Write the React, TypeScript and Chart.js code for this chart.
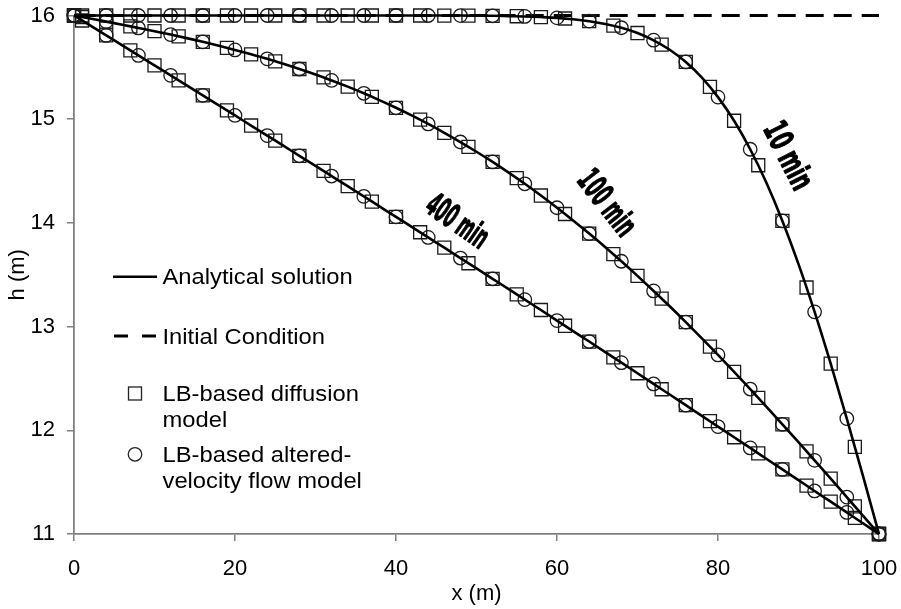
import React, { useEffect, useRef } from 'react';
import { Chart, registerables } from 'chart.js';

Chart.register(...registerables);

// ---------- data (x in m, h in m) ----------
const LINE_X = [0, 2, 4, 6, 8, 10, 12, 14, 16, 18, 20, 22, 24, 26, 28, 30, 32, 34, 36, 38, 40, 42, 44, 46, 48, 50, 52, 54, 56, 58, 60, 62, 64, 66, 68, 70, 72, 74, 76, 78, 80, 82, 84, 86, 88, 90, 92, 94, 96, 98, 100];

const ANALYTIC_10 = [16, 16, 16, 16, 16, 16, 16, 16, 16, 16, 16, 16, 16, 16, 16, 16, 16, 16, 16, 16, 16, 16, 16, 16, 16,
  15.998, 15.997, 15.994, 15.991, 15.985, 15.977, 15.964, 15.945, 15.919, 15.882, 15.831, 15.761, 15.670, 15.552, 15.401,
  15.213, 14.985, 14.710, 14.389, 14.019, 13.602, 13.142, 12.643, 12.113, 11.562, 11];

const ANALYTIC_100 = [16, 15.971, 15.941, 15.911, 15.880, 15.849, 15.816, 15.782, 15.746, 15.708, 15.668, 15.626, 15.582,
  15.534, 15.484, 15.431, 15.374, 15.314, 15.250, 15.182, 15.110, 15.034, 14.954, 14.869, 14.780, 14.686, 14.588, 14.485,
  14.377, 14.264, 14.146, 14.024, 13.897, 13.766, 13.630, 13.489, 13.344, 13.196, 13.043, 12.886, 12.727, 12.564, 12.398,
  12.229, 12.058, 11.885, 11.710, 11.534, 11.356, 11.178, 11];

const ANALYTIC_400 = [16, 15.904, 15.808, 15.712, 15.615, 15.519, 15.423, 15.326, 15.230, 15.133, 15.036, 14.939, 14.842,
  14.745, 14.647, 14.550, 14.452, 14.354, 14.256, 14.157, 14.058, 13.960, 13.860, 13.761, 13.661, 13.561, 13.461, 13.361,
  13.260, 13.160, 13.058, 12.957, 12.856, 12.754, 12.652, 12.550, 12.447, 12.345, 12.242, 12.139, 12.036, 11.933, 11.830,
  11.726, 11.623, 11.519, 11.415, 11.312, 11.208, 11.104, 11];

const INITIAL_X = [0, 100];
const INITIAL_H = [16, 16];

// LB-based diffusion model (squares)
const SQUARE_X = [0, 1, 4, 7, 10, 13, 16, 19, 22, 25, 28, 31, 34, 37, 40, 43, 46, 49, 52, 55, 58, 61, 64, 67, 70, 73, 76, 79, 82, 85, 88, 91, 94, 97, 100];
const SQUARE_10 = [16, 16, 16, 16, 16, 16, 16, 16, 16, 16, 16, 16, 16, 16, 16, 16, 15.999, 15.998, 15.997, 15.993, 15.985,
  15.971, 15.946, 15.902, 15.831, 15.719, 15.552, 15.312, 14.985, 14.556, 14.019, 13.377, 12.643, 11.84, 11];
const SQUARE_100 = [16, 15.985, 15.941, 15.896, 15.849, 15.799, 15.746, 15.688, 15.626, 15.558, 15.484, 15.403, 15.314,
  15.216, 15.110, 14.995, 14.869, 14.734, 14.588, 14.431, 14.264, 14.086, 13.897, 13.698, 13.489, 13.270, 13.043, 12.807,
  12.564, 12.313, 12.058, 11.797, 11.534, 11.267, 11];
const SQUARE_400 = [16, 15.952, 15.808, 15.663, 15.519, 15.374, 15.230, 15.085, 14.939, 14.793, 14.647, 14.501, 14.354,
  14.206, 14.058, 13.910, 13.761, 13.611, 13.461, 13.311, 13.160, 13.008, 12.856, 12.703, 12.550, 12.396, 12.242, 12.088,
  11.933, 11.778, 11.623, 11.467, 11.312, 11.156, 11];

// LB-based altered-velocity flow model (circles)
const CIRCLE_X = [0, 4, 8, 12, 16, 20, 24, 28, 32, 36, 40, 44, 48, 52, 56, 60, 64, 68, 72, 76, 80, 84, 88, 92, 96, 100];
const CIRCLE_10 = [16, 16, 16, 16, 16, 16, 16, 16, 16, 16, 16, 16, 15.999, 15.997, 15.991, 15.977, 15.946, 15.882, 15.762,
  15.552, 15.213, 14.710, 14.019, 13.142, 12.113, 11];
const CIRCLE_100 = [16, 15.941, 15.880, 15.816, 15.746, 15.668, 15.582, 15.484, 15.374, 15.250, 15.110, 14.954, 14.780,
  14.588, 14.377, 14.146, 13.897, 13.630, 13.344, 13.043, 12.727, 12.398, 12.058, 11.710, 11.356, 11];
const CIRCLE_400 = [16, 15.808, 15.615, 15.423, 15.230, 15.036, 14.842, 14.647, 14.452, 14.256, 14.058, 13.860, 13.661,
  13.461, 13.260, 13.058, 12.856, 12.652, 12.447, 12.242, 12.036, 11.830, 11.623, 11.415, 11.208, 11];

const X_TICKS = [0, 20, 40, 60, 80, 100];
const Y_TICKS = [11, 12, 13, 14, 15, 16];

const CURVE_LABEL_TEXT = ['10 min', '100 min', '400 min'];
const CURVE_LABEL_X = [88.5, 66.0, 47.5];
const CURVE_LABEL_Y = [14.64, 14.18, 14.0];

// ---------- styles ----------
const FONT = '"Liberation Sans", Arial, Helvetica, sans-serif';
const LABEL_FONT = '"DejaVu Sans Condensed", "DejaVu Sans", sans-serif';
const LABEL_ANGLE = [63, 52, 35];
const LABEL_LEN = [72, 74, 69];

const pts = (xs: number[], ys: number[]) => xs.map((x, i) => ({ x, y: ys[i] }));

const overlayPlugin = {
  id: 'overlay',
  afterDatasetsDraw(chart: any) {
    const { ctx, chartArea, scales } = chart;
    const sx = scales.x;
    const sy = scales.y;

    // curve labels
    CURVE_LABEL_TEXT.forEach((t, i) => {
      const px = sx.getPixelForValue(CURVE_LABEL_X[i]);
      const py = sy.getPixelForValue(CURVE_LABEL_Y[i]);
      ctx.save();
      ctx.translate(px, py);
      ctx.rotate((LABEL_ANGLE[i] * Math.PI) / 180);
      ctx.font = `bold 33px ${LABEL_FONT}`;
      const w = ctx.measureText(t).width;
      ctx.scale(LABEL_LEN[i] / w, 1);
      ctx.textAlign = 'center';
      ctx.textBaseline = 'middle';
      ctx.fillStyle = '#000';
      ctx.strokeStyle = '#000';
      ctx.lineWidth = 1.2;
      ctx.lineJoin = 'round';
      ctx.fillText(t, 0, 0);
      ctx.strokeText(t, 0, 0);
      ctx.restore();
    });

    // legend
    const L = chartArea.left;
    const T = chartArea.top;
    ctx.save();
    ctx.font = `22px ${FONT}`;
    ctx.fillStyle = '#000';
    ctx.textAlign = 'left';
    ctx.textBaseline = 'alphabetic';
    const text = (s: string, x: number, y: number) => {
      ctx.save();
      ctx.translate(x, y);
      ctx.scale(1.08, 1);
      ctx.fillText(s, 0, 0);
      ctx.restore();
    };
    const tx = L + 88.5;

    ctx.strokeStyle = '#000';
    ctx.lineWidth = 2.6;
    ctx.setLineDash([]);
    ctx.beginPath();
    ctx.moveTo(L + 39, T + 261.2);
    ctx.lineTo(L + 83, T + 261.2);
    ctx.stroke();
    text('Analytical solution', tx, T + 268.5);

    ctx.lineWidth = 3;
    ctx.setLineDash([14, 14]);
    ctx.beginPath();
    ctx.moveTo(L + 40, T + 320.5);
    ctx.lineTo(L + 83, T + 320.5);
    ctx.stroke();
    ctx.setLineDash([]);
    text('Initial Condition', tx, T + 328);

    ctx.strokeStyle = '#222';
    ctx.lineWidth = 1.3;
    ctx.strokeRect(L + 54.5, T + 371.5, 13, 13);
    text('LB-based diffusion', tx, T + 385.5);
    text('model', tx, T + 411.5);

    ctx.beginPath();
    ctx.arc(L + 61, T + 438.8, 6.75, 0, Math.PI * 2);
    ctx.stroke();
    text('LB-based altered-', tx, T + 446.5);
    text('velocity flow model', tx, T + 472.5);
    ctx.restore();
  },
};

export default function App() {
  const ref = useRef<HTMLCanvasElement>(null);

  useEffect(() => {
    document.body.style.margin = '0';
    const lineDs = (ys: number[]) => ({
      data: pts(LINE_X, ys),
      borderColor: '#000',
      borderWidth: 2.6,
      pointRadius: 0,
      cubicInterpolationMode: 'monotone' as const,
      fill: false,
      clip: false as any,
    });
    const markerDs = (xs: number[], ys: number[], style: string, r: number) => ({
      data: pts(xs, ys),
      showLine: false,
      pointStyle: style,
      pointRadius: r,
      pointBorderColor: '#1a1a1a',
      pointBorderWidth: 1.3,
      pointBackgroundColor: 'rgba(0,0,0,0)',
      borderColor: '#1a1a1a',
      clip: false as any,
    });

    const tickFont = { size: 22, family: FONT };
    const fixPad = (s: any) => {
      s.paddingLeft = 0;
      s.paddingRight = 0;
      s.paddingTop = 0;
      s.paddingBottom = 0;
    };
    const chart = new Chart(ref.current as HTMLCanvasElement, {
      type: 'line',
      data: {
        datasets: [
          lineDs(ANALYTIC_10),
          lineDs(ANALYTIC_100),
          lineDs(ANALYTIC_400),
          markerDs(SQUARE_X, SQUARE_10, 'rect', 9.2),
          markerDs(SQUARE_X, SQUARE_100, 'rect', 9.2),
          markerDs(SQUARE_X, SQUARE_400, 'rect', 9.2),
          markerDs(CIRCLE_X, CIRCLE_10, 'circle', 6.75),
          markerDs(CIRCLE_X, CIRCLE_100, 'circle', 6.75),
          markerDs(CIRCLE_X, CIRCLE_400, 'circle', 6.75),
          {
            data: pts(INITIAL_X, INITIAL_H),
            borderColor: '#000',
            borderWidth: 3,
            borderDash: [18, 10],
            borderDashOffset: 24.3,
            pointRadius: 0,
            fill: false,
            clip: false as any,
          },
        ] as any,
      },
      options: {
        animation: false,
        responsive: false,
        devicePixelRatio: 1,
        events: [],
        layout: { padding: { left: 0, top: 15.5, right: 22, bottom: 0 } },
        plugins: { legend: { display: false }, tooltip: { enabled: false } },
        scales: {
          x: {
            type: 'linear',
            min: 0,
            max: 100,
            afterBuildTicks: (s: any) => { s.ticks = X_TICKS.map((v) => ({ value: v })); },
            afterFit: (s: any) => { s.height = 75; fixPad(s); },
            ticks: { color: '#000', font: tickFont, padding: 15, maxRotation: 0, autoSkip: false },
            grid: { drawOnChartArea: false, drawTicks: true, tickLength: 7, color: '#808080', lineWidth: 1.5 },
            border: { display: true, color: '#808080', width: 1.8 },
            title: { display: true, text: 'x (m)', color: '#000', font: tickFont, padding: { top: 0, bottom: 2 } },
          },
          y: {
            type: 'linear',
            min: 11,
            max: 16,
            afterBuildTicks: (s: any) => { s.ticks = Y_TICKS.map((v) => ({ value: v })); },
            afterFit: (s: any) => { s.width = 74; fixPad(s); },
            ticks: { color: '#000', font: tickFont, padding: 12 },
            grid: { drawOnChartArea: false, drawTicks: true, tickLength: 7, color: '#808080', lineWidth: 1.5 },
            border: { display: true, color: '#808080', width: 1.8 },
            title: { display: true, text: 'h (m)', color: '#000', font: tickFont, padding: { top: 5, bottom: 0 } },
          },
        },
      } as any,
      plugins: [overlayPlugin],
    });
    return () => chart.destroy();
  }, []);

  return (
    <div style={{ position: 'absolute', left: 0, top: 0, width: 901, height: 609, background: '#fff' }}>
      <canvas ref={ref} width={901} height={609} style={{ width: 901, height: 609, display: 'block' }} />
    </div>
  );
}
